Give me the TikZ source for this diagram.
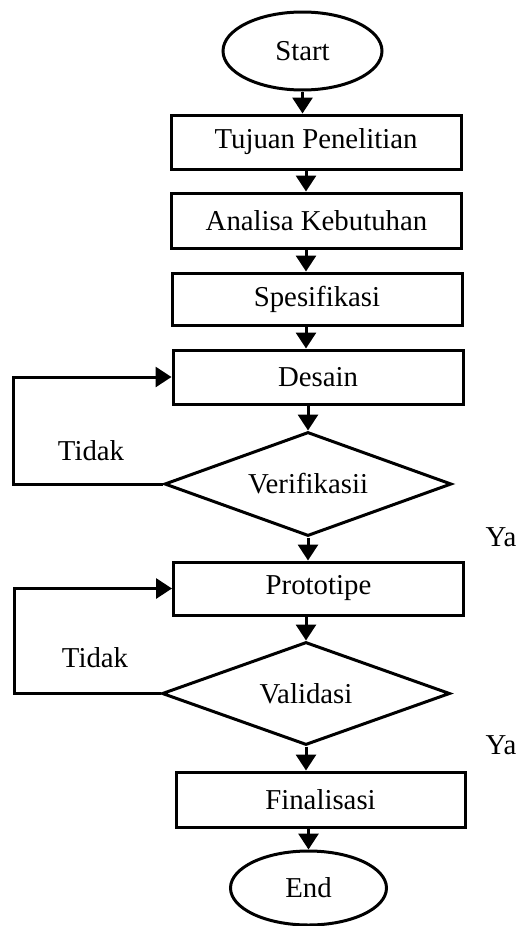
\documentclass[tikz,border=0pt]{standalone}
\usepackage{fontspec}
\setmainfont{Liberation Serif}
\usepackage{tikz}
\usetikzlibrary{shapes.geometric,arrows.meta}

\begin{document}
\begin{tikzpicture}[x=1pt,y=-1pt,
  every node/.style={font=\fontsize{28.8}{34}\selectfont},
  proses/.style={draw,line width=3pt,minimum width=290pt,inner sep=0pt},
  terminal/.style={draw,ellipse,line width=3pt,inner sep=0pt},
  keputusan/.style={draw,diamond,line width=3pt,inner sep=0pt,aspect=2.7},
  flow/.style={line width=3pt,-{Triangle[width=20pt,length=16pt]}}]
\useasboundingbox (0,0) rectangle (520,926);
\coordinate (axis) at (306,0);

\node[terminal,minimum width=159pt,minimum height=78pt] (start) at (302.5,51) {Start};
\node[proses,minimum height=54pt] (tujuan) at (316,142) {Tujuan Penelitian};
\node[proses,minimum height=55pt] (analisa) at (316.5,220.5) {Analisa Kebutuhan};
\node[proses,minimum height=52pt] (spek) at (317,299) {Spesifikasi};
\node[proses,minimum height=54pt] (desain) at (318,377) {Desain};
\node[keputusan,minimum width=287pt,minimum height=104pt] (verif) at (308,484) {Verifikasii};
\node[proses,minimum height=53pt] (proto) at (318.5,588.5) {Prototipe};
\node[keputusan,minimum width=288pt,minimum height=103pt] (valid) at (306,693.5) {Validasi};
\node[proses,minimum width=289pt,minimum height=55pt] (final) at (320.5,799.5) {Finalisasi};
\node[terminal,minimum width=156pt,minimum height=74pt] (end) at (308.5,888) {End};

\node (tidak1) at (91,451) {Tidak};
\node (tidak2) at (95,658) {Tidak};
\node (ya1) at (501,537) {Ya};
\node (ya2) at (501,745) {Ya};

\draw[flow] (start.south) -- (start.south |- tujuan.north);
\draw[flow] (tujuan.south -| axis) -- (analisa.north -| axis);
\draw[flow] (analisa.south -| axis) -- (spek.north -| axis);
\draw[flow] (spek.south -| axis) -- (desain.north -| axis);
\draw[flow] (desain.south -| verif.north) -- (verif.north);
\draw[flow] (verif.south) -- (verif.south |- proto.north);
\draw[flow] (proto.south -| valid.north) -- (valid.north);
\draw[flow] (valid.south) -- (valid.south |- final.north);
\draw[flow] (final.south -| end.north) -- (end.north);

\draw[flow] (verif.west) -- ++(-150,0) |- (desain.west);
\draw[flow] (valid.west) -- ++(-146,0) |- (proto.west);
\end{tikzpicture}
\end{document}
